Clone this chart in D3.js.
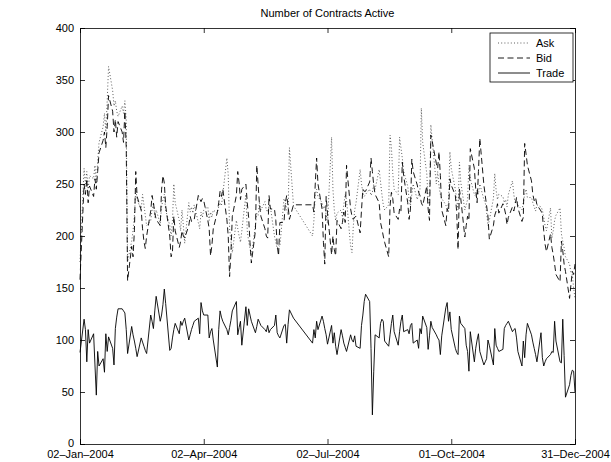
<!DOCTYPE html>
<html>
<head>
<meta charset="utf-8">
<script src="https://cdn.jsdelivr.net/npm/d3@7"></script>
<style>
  body { margin: 0; background: #fff; }
  svg text { font-family: "Liberation Sans", Arial, Helvetica, sans-serif; fill: #000; }
</style>
</head>
<body>
<svg id="chart" width="611" height="462"></svg>
<script>
// ---- data -------------------------------------------------------------
const chartTitle = "Number of Contracts Active";
const seriesNames = ["Ask", "Bid", "Trade"];
const firstDay = "2004-01-02";
const lastDay = "2004-12-31";
const xTickDates = ["2004-01-02", "2004-04-02", "2004-07-02", "2004-10-01", "2004-12-31"];
const yTicks = [0, 50, 100, 150, 200, 250, 300, 350, 400];

// One value per weekday from 02-Jan-2004 to 31-Dec-2004 (rows = Mon..Fri weeks).
// null marks days with no record (8-18 June).
const ask = [
  175,
  265, 250, 262, 245, 258,
  255, 268, 250, 272, 290,
  305, 318, 300, 330, 363,
  340, 325, 330, 320, 315,
  325, 318, 330, 312, 175,
  195, 205, 220, 245, 235,
  225, 240, 230, 220, 210,
  215, 225, 232, 218, 225,
  212, 228, 235, 240, 225,
  210, 200, 215, 250, 232,
  215, 205, 225, 210, 193,
  232, 223, 228, 222, 230,
  213, 207, 223, 218, 225,
  228, 215, 223, 218, 225,
  222, 228, 232, 229, 240,
  275, 259, 207, 195, 184,
  215, 207, 200, 194, 205,
  240, 205, 195, 188, 181,
  210, 222, 220, 232, 225,
  233, 225, 223, 230, 228,
  200, 194, 188, 191, 190,
  236, 233, 225, 220, 285,
  229, null, null, null, null,
  null, null, null, null, null,
  200, 215, 240, 245, 238,
  232, 226, 229, 220, 212,
  295, 245, 225, 215, 222,
  225, 218, 230, 240, 235,
  190, 184, 210, 225, 232,
  264, 250, 242, 238, 240,
  245, 239, 242, 250, 245,
  264, 252, 240, 230, 225,
  230, 297, 285, 260, 245,
  240, 295, 285, 275, 262,
  248, 235, 229, 240, 250,
  235, 240, 245, 323, 290,
  260, 235, 229, 307, 292,
  250, 262, 248, 240, 236,
  230, 225, 232, 281, 265,
  245, 235, 225, 271, 252,
  225, 230, 235, 268, 255,
  240, 238, 245, 240, 250,
  235, 232, 223, 210, 215,
  236, 260, 244, 235, 240,
  238, 232, 235, 228, 240,
  253, 240, 232, 235, 230,
  225, 232, 240, 245, 237,
  237, 232, 228, 224, 230,
  228, 225, 218, 210, 205,
  227, 198, 205, 215, 220,
  227, 202, 195, 189, 180,
  173, 165, 163, 150, 140
];

const bid = [
  158,
  250, 240, 255, 232, 248,
  238, 255, 245, 262, 280,
  292, 300, 285, 305, 335,
  320, 300, 312, 295, 310,
  300, 290, 320, 285, 157,
  190, 180, 205, 262, 238,
  225, 207, 195, 188, 200,
  224, 239, 232, 222, 216,
  210, 245, 258, 251, 229,
  200, 180, 185, 219, 205,
  189, 195, 205, 200, 198,
  210, 219, 214, 216, 216,
  239, 236, 233, 236, 234,
  215, 207, 181, 191, 207,
  223, 232, 243, 238, 245,
  216, 200, 161, 184, 219,
  239, 262, 251, 235, 245,
  250, 232, 218, 194, 174,
  205, 268, 249, 230, 219,
  207, 200, 198, 239, 226,
  226, 215, 191, 181, 213,
  213, 232, 239, 229, 216,
  230, null, null, null, null,
  null, null, null, null, null,
  230, 223, 250, 275, 250,
  226, 194, 173, 238, 222,
  182, 200, 187, 181, 215,
  207, 213, 223, 213, 268,
  226, 219, 216, 218, 219,
  203, 225, 245, 243, 243,
  252, 275, 262, 249, 240,
  232, 213, 207, 200, 194,
  180, 229, 242, 236, 222,
  216, 226, 223, 271, 258,
  232, 216, 226, 274, 262,
  249, 242, 239, 232, 229,
  248, 226, 215, 297, 291,
  270, 265, 281, 258, 225,
  210, 226, 223, 255, 249,
  239, 223, 187, 245, 236,
  199, 210, 219, 215, 284,
  265, 245, 232, 262, 294,
  249, 239, 229, 219, 197,
  210, 220, 224, 231, 222,
  231, 227, 221, 211, 218,
  228, 224, 230, 237, 227,
  214, 218, 289, 279, 268,
  253, 240, 234, 237, 230,
  224, 221, 205, 192, 185,
  202, 189, 182, 173, 163,
  156, 195, 186, 173, 166,
  140, 153, 166, 163, 173
];

const trade = [
  88,
  120, 110, 79, 110, 97,
  106, 76, 47, 89, 75,
  82, 69, 106, 89, 103,
  92, 76, 111, 122, 130,
  130, 128, 126, 110, 87,
  113, 105, 99, 92, 84,
  102, 98, 94, 90, 87,
  124, 118, 111, 128, 142,
  118, 124, 134, 149, 135,
  90, 92, 102, 110, 116,
  106, 118, 114, 118, 121,
  100, 105, 110, 114, 118,
  121, 106, 136, 128, 124,
  124, 102, 108, 111, 100,
  74, 110, 128, 122, 118,
  110, 105, 112, 119, 128,
  137, 105, 112, 118, 95,
  132, 114, 130, 124, 118,
  107, 113, 120, 117, 114,
  110, 108, 114, 107, 110,
  114, 124, 107, 104, 102,
  114, 115, 97, 115, 129,
  121, null, null, null, null,
  null, null, null, null, null,
  97, 110, 102, 118, 110,
  123, 118, 111, 105, 96,
  114, 97, 107, 94, 86,
  110, 104, 97, 93, 89,
  105, 100, 98, 104, 94,
  92, 114, 124, 137, 144,
  137, 92, 28, 70, 105,
  102, 116, 120, 118, 99,
  94, 105, 116, 124, 108,
  95, 108, 118, 124, 108,
  110, 106, 114, 116, 97,
  100, 92, 111, 106, 123,
  112, 91, 104, 118, 112,
  105, 102, 100, 86, 104,
  131, 136, 118, 127, 110,
  92, 88, 86, 123, 116,
  111, 95, 89, 70, 108,
  79, 92, 100, 106, 89,
  76, 79, 82, 100, 95,
  76, 111, 95, 92, 89,
  91, 111, 114, 116, 118,
  108, 110, 111, 102, 89,
  75, 99, 83, 105, 116,
  105, 98, 92, 86, 79,
  107, 83, 75, 79, 82,
  86, 89, 88, 118, 99,
  79, 78, 120, 85, 45,
  57, 66, 71, 70, 50
];

// ---- layout -----------------------------------------------------------
const W = 611, H = 462;
const margin = { left: 80, right: 36, top: 28, bottom: 18 };
const parse = d3.utcParse("%Y-%m-%d");
const fmtDate = d3.utcFormat("%d-%b-%Y");
const fmt = d => fmtDate(d).replace(/-/g, "\u2013");

// weekdays of the year, aligned with the value arrays
const days = d3.utcDays(parse(firstDay), d3.utcDay.offset(parse(lastDay), 1))
  .filter(d => d.getUTCDay() !== 0 && d.getUTCDay() !== 6);

const svg = d3.select("#chart");
const x = d3.scaleUtc()
  .domain([parse(firstDay), parse(lastDay)])
  .range([margin.left, W - margin.right]);
const y = d3.scaleLinear()
  .domain([0, 400])
  .range([H - margin.bottom, margin.top]);

// title
svg.append("text")
  .attr("x", (margin.left + W - margin.right) / 2)
  .attr("y", 17)
  .attr("text-anchor", "middle")
  .attr("font-size", 11)
  .text(chartTitle);

// series
const pts = vals => days.map((d, i) => [d, vals[i]]).filter(p => p[1] != null);
const line = d3.line().x(p => x(p[0])).y(p => y(p[1]));
const styles = [
  { data: ask,   dash: "1,2.2", width: 0.8, color: "#333" },
  { data: bid,   dash: "6,3.5", width: 0.9, color: "#000" },
  { data: trade, dash: null,    width: 0.9, color: "#000" }
];
const plot = svg.append("g");
styles.forEach(s => {
  plot.append("path")
    .datum(pts(s.data))
    .attr("fill", "none")
    .attr("stroke", s.color)
    .attr("stroke-width", s.width)
    .attr("stroke-dasharray", s.dash)
    .attr("d", line);
});

// axes box with inward ticks on every side
const tick = 5;
const xt = xTickDates.map(parse);
const gB = svg.append("g").attr("transform", `translate(0,${H - margin.bottom})`)
  .call(d3.axisBottom(x).tickValues(xt).tickFormat(fmt).tickSize(-tick).tickPadding(6));
const gT = svg.append("g").attr("transform", `translate(0,${margin.top})`)
  .call(d3.axisTop(x).tickValues(xt).tickFormat("").tickSize(-tick));
const gL = svg.append("g").attr("transform", `translate(${margin.left},0)`)
  .call(d3.axisLeft(y).tickValues(yTicks).tickSize(-tick).tickPadding(6));
const gR = svg.append("g").attr("transform", `translate(${W - margin.right},0)`)
  .call(d3.axisRight(y).tickValues(yTicks).tickFormat("").tickSize(-tick));
[gB, gT, gL, gR].forEach(g => {
  g.select(".domain").attr("stroke", "#000").attr("stroke-width", 0.8);
  g.selectAll(".tick line").attr("stroke", "#000").attr("stroke-width", 0.8);
  g.selectAll("text").attr("font-size", 11).attr("fill", "#000")
    .style("font-family", '"Liberation Sans", Arial, sans-serif');
});
// keep the lowest y label clear of the date labels
gL.selectAll(".tick text").filter(d => d === 0).attr("dy", "0.2em");

// legend
const lg = svg.append("g").attr("transform", "translate(490,33)");
lg.append("rect").attr("width", 83).attr("height", 49)
  .attr("fill", "#fff").attr("stroke", "#000").attr("stroke-width", 0.8);
seriesNames.forEach((name, i) => {
  const ry = 10 + i * 15;
  lg.append("line").attr("x1", 8).attr("x2", 40).attr("y1", ry).attr("y2", ry)
    .attr("stroke", styles[i].color).attr("stroke-width", styles[i].width)
    .attr("stroke-dasharray", styles[i].dash);
  lg.append("text").attr("x", 46).attr("y", ry + 4)
    .attr("font-size", 11).text(name);
});
</script>
</body>
</html>
